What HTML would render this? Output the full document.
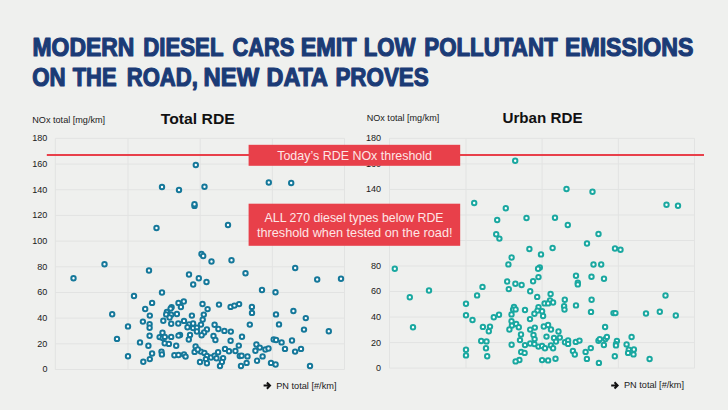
<!DOCTYPE html>
<html><head><meta charset="utf-8"><title>Modern diesel cars emit low pollutant emissions</title>
<style>html,body{margin:0;padding:0;background:#eff0ee}svg{display:block}text{font-family:"Liberation Sans",sans-serif}</style></head><body>
<svg width="728" height="410" viewBox="0 0 728 410">
<rect width="728" height="410" fill="#eff0ee"/>
<g fill="#1b3b76" stroke="#1b3b76" stroke-width="1.2" stroke-linejoin="round" font-weight="bold" font-size="25.3">
<text x="32.49" y="55.9" textLength="101.83" lengthAdjust="spacingAndGlyphs">MODERN</text>
<text x="143.20" y="55.9" textLength="80.32" lengthAdjust="spacingAndGlyphs">DIESEL</text>
<text x="232.50" y="55.9" textLength="61.70" lengthAdjust="spacingAndGlyphs">CARS</text>
<text x="300.71" y="55.9" textLength="55.90" lengthAdjust="spacingAndGlyphs">EMIT</text>
<text x="363.81" y="55.9" textLength="51.73" lengthAdjust="spacingAndGlyphs">LOW</text>
<text x="424.26" y="55.9" textLength="133.45" lengthAdjust="spacingAndGlyphs">POLLUTANT</text>
<text x="565.01" y="55.9" textLength="128.40" lengthAdjust="spacingAndGlyphs">EMISSIONS</text>
<text x="32.18" y="86.2" textLength="33.42" lengthAdjust="spacingAndGlyphs">ON</text>
<text x="72.76" y="86.2" textLength="43.80" lengthAdjust="spacingAndGlyphs">THE</text>
<text x="126.71" y="86.2" textLength="71.09" lengthAdjust="spacingAndGlyphs">ROAD,</text>
<text x="203.62" y="86.2" textLength="55.51" lengthAdjust="spacingAndGlyphs">NEW</text>
<text x="266.51" y="86.2" textLength="61.49" lengthAdjust="spacingAndGlyphs">DATA</text>
<text x="335.40" y="86.2" textLength="93.30" lengthAdjust="spacingAndGlyphs">PROVES</text>
</g>
<g stroke="#e2e3e2" stroke-width="1" fill="none">
<line x1="55.3" x2="344.5" y1="369.50" y2="369.50"/>
<line x1="55.3" x2="344.5" y1="343.82" y2="343.82"/>
<line x1="55.3" x2="344.5" y1="318.14" y2="318.14"/>
<line x1="55.3" x2="344.5" y1="292.47" y2="292.47"/>
<line x1="55.3" x2="344.5" y1="266.79" y2="266.79"/>
<line x1="55.3" x2="344.5" y1="241.11" y2="241.11"/>
<line x1="55.3" x2="344.5" y1="215.43" y2="215.43"/>
<line x1="55.3" x2="344.5" y1="189.76" y2="189.76"/>
<line x1="55.3" x2="344.5" y1="164.08" y2="164.08"/>
<line x1="55.3" x2="344.5" y1="138.40" y2="138.40"/>
<line x1="55.3" x2="55.3" y1="138.40" y2="369.50"/>
<line x1="128.0" x2="128.0" y1="138.40" y2="369.50"/>
<line x1="200.2" x2="200.2" y1="138.40" y2="369.50"/>
<line x1="272.4" x2="272.4" y1="138.40" y2="369.50"/>
<line x1="344.5" x2="344.5" y1="138.40" y2="369.50"/>
<line x1="389.5" x2="694.5" y1="368.10" y2="368.10"/>
<line x1="389.5" x2="694.5" y1="342.58" y2="342.58"/>
<line x1="389.5" x2="694.5" y1="317.06" y2="317.06"/>
<line x1="389.5" x2="694.5" y1="291.53" y2="291.53"/>
<line x1="389.5" x2="694.5" y1="266.01" y2="266.01"/>
<line x1="389.5" x2="694.5" y1="240.49" y2="240.49"/>
<line x1="389.5" x2="694.5" y1="214.97" y2="214.97"/>
<line x1="389.5" x2="694.5" y1="189.44" y2="189.44"/>
<line x1="389.5" x2="694.5" y1="163.92" y2="163.92"/>
<line x1="389.5" x2="694.5" y1="138.40" y2="138.40"/>
<line x1="389.5" x2="389.5" y1="138.40" y2="368.10"/>
<line x1="466.0" x2="466.0" y1="138.40" y2="368.10"/>
<line x1="542.1" x2="542.1" y1="138.40" y2="368.10"/>
<line x1="618.4" x2="618.4" y1="138.40" y2="368.10"/>
<line x1="694.5" x2="694.5" y1="138.40" y2="368.10"/>
</g>
<g fill="#1a1a1a" font-size="9.2">
<text x="47.4" y="372.4" text-anchor="end" font-size="9.8" textLength="5.0" lengthAdjust="spacingAndGlyphs">0</text>
<text x="381" y="371.0" text-anchor="end" font-size="9.8" textLength="5.0" lengthAdjust="spacingAndGlyphs">0</text>
<text x="47.4" y="346.7" text-anchor="end" font-size="9.8" textLength="10.1" lengthAdjust="spacingAndGlyphs">20</text>
<text x="381" y="345.5" text-anchor="end" font-size="9.8" textLength="10.1" lengthAdjust="spacingAndGlyphs">20</text>
<text x="47.4" y="321.0" text-anchor="end" font-size="9.8" textLength="10.1" lengthAdjust="spacingAndGlyphs">40</text>
<text x="381" y="320.0" text-anchor="end" font-size="9.8" textLength="10.1" lengthAdjust="spacingAndGlyphs">40</text>
<text x="47.4" y="295.4" text-anchor="end" font-size="9.8" textLength="10.1" lengthAdjust="spacingAndGlyphs">60</text>
<text x="381" y="294.4" text-anchor="end" font-size="9.8" textLength="10.1" lengthAdjust="spacingAndGlyphs">60</text>
<text x="47.4" y="269.7" text-anchor="end" font-size="9.8" textLength="10.1" lengthAdjust="spacingAndGlyphs">80</text>
<text x="381" y="268.9" text-anchor="end" font-size="9.8" textLength="10.1" lengthAdjust="spacingAndGlyphs">80</text>
<text x="47.4" y="244.0" text-anchor="end" font-size="9.8" textLength="15.1" lengthAdjust="spacingAndGlyphs">100</text>
<text x="381" y="243.4" text-anchor="end" font-size="9.8" textLength="15.1" lengthAdjust="spacingAndGlyphs">100</text>
<text x="47.4" y="218.3" text-anchor="end" font-size="9.8" textLength="15.1" lengthAdjust="spacingAndGlyphs">120</text>
<text x="381" y="217.9" text-anchor="end" font-size="9.8" textLength="15.1" lengthAdjust="spacingAndGlyphs">120</text>
<text x="47.4" y="192.7" text-anchor="end" font-size="9.8" textLength="15.1" lengthAdjust="spacingAndGlyphs">140</text>
<text x="381" y="192.3" text-anchor="end" font-size="9.8" textLength="15.1" lengthAdjust="spacingAndGlyphs">140</text>
<text x="47.4" y="167.0" text-anchor="end" font-size="9.8" textLength="15.1" lengthAdjust="spacingAndGlyphs">160</text>
<text x="381" y="166.8" text-anchor="end" font-size="9.8" textLength="15.1" lengthAdjust="spacingAndGlyphs">160</text>
<text x="47.4" y="141.3" text-anchor="end" font-size="9.8" textLength="15.1" lengthAdjust="spacingAndGlyphs">180</text>
<text x="381" y="141.3" text-anchor="end" font-size="9.8" textLength="15.1" lengthAdjust="spacingAndGlyphs">180</text>
<text x="32.3" y="123.1" textLength="72.8" lengthAdjust="spacingAndGlyphs">NOx total [mg/km]</text>
<text x="366.7" y="120.9" textLength="72.6" lengthAdjust="spacingAndGlyphs">NOx total [mg/km]</text>
<text x="276.2" y="388.5" textLength="60.3" lengthAdjust="spacingAndGlyphs">PN total [#/km]</text>
<text x="624" y="388.2" textLength="60" lengthAdjust="spacingAndGlyphs">PN total [#/km]</text>
</g>
<path d="M263.6 385.6 h5.6 M266.9 382.5 l3.1 3.1 l-3.1 3.1" stroke="#111" stroke-width="2" stroke-linejoin="miter" fill="none"/>
<path d="M611.2 385.4 h5.6 M614.5 382.3 l3.1 3.1 l-3.1 3.1" stroke="#111" stroke-width="2" stroke-linejoin="miter" fill="none"/>
<g fill="#111" font-weight="bold" font-size="14.9">
<text x="160.8" y="124.4" textLength="74" lengthAdjust="spacingAndGlyphs">Total RDE</text>
<text x="502.5" y="123" textLength="80" lengthAdjust="spacingAndGlyphs">Urban RDE</text>
</g>
<g fill="#ffffff" stroke="#15789a" stroke-width="2">
<circle cx="162.0" cy="187.0" r="2.2"/>
<circle cx="179.0" cy="190.0" r="2.2"/>
<circle cx="156.5" cy="228.0" r="2.2"/>
<circle cx="195.8" cy="165.0" r="2.2"/>
<circle cx="204.5" cy="186.8" r="2.2"/>
<circle cx="268.8" cy="182.5" r="2.2"/>
<circle cx="291.2" cy="183.0" r="2.2"/>
<circle cx="194.5" cy="205.9" r="2.2"/>
<circle cx="194.5" cy="204.3" r="2.2"/>
<circle cx="228.0" cy="225.0" r="2.2"/>
<circle cx="73.5" cy="278.2" r="2.2"/>
<circle cx="104.5" cy="264.2" r="2.2"/>
<circle cx="149.0" cy="270.5" r="2.2"/>
<circle cx="162.0" cy="292.5" r="2.2"/>
<circle cx="134.0" cy="296.0" r="2.2"/>
<circle cx="112.2" cy="314.2" r="2.2"/>
<circle cx="128.0" cy="326.4" r="2.2"/>
<circle cx="117.0" cy="338.9" r="2.2"/>
<circle cx="128.0" cy="356.2" r="2.2"/>
<circle cx="201.5" cy="254.0" r="2.2"/>
<circle cx="203.2" cy="256.0" r="2.2"/>
<circle cx="211.5" cy="261.5" r="2.2"/>
<circle cx="231.5" cy="260.2" r="2.2"/>
<circle cx="295.2" cy="268.0" r="2.2"/>
<circle cx="189.0" cy="274.5" r="2.2"/>
<circle cx="198.8" cy="278.2" r="2.2"/>
<circle cx="245.5" cy="273.2" r="2.2"/>
<circle cx="206.5" cy="282.0" r="2.2"/>
<circle cx="193.2" cy="284.5" r="2.2"/>
<circle cx="317.2" cy="279.5" r="2.2"/>
<circle cx="341.0" cy="278.8" r="2.2"/>
<circle cx="262.0" cy="290.0" r="2.2"/>
<circle cx="275.5" cy="292.2" r="2.2"/>
<circle cx="152.1" cy="302.9" r="2.2"/>
<circle cx="145.2" cy="309.0" r="2.2"/>
<circle cx="149.8" cy="315.6" r="2.2"/>
<circle cx="142.9" cy="321.6" r="2.2"/>
<circle cx="149.6" cy="324.1" r="2.2"/>
<circle cx="149.6" cy="327.8" r="2.2"/>
<circle cx="149.6" cy="335.8" r="2.2"/>
<circle cx="148.4" cy="345.8" r="2.2"/>
<circle cx="178.5" cy="302.9" r="2.2"/>
<circle cx="183.8" cy="301.5" r="2.2"/>
<circle cx="180.9" cy="307.0" r="2.2"/>
<circle cx="171.6" cy="307.3" r="2.2"/>
<circle cx="170.6" cy="308.6" r="2.2"/>
<circle cx="166.9" cy="311.9" r="2.2"/>
<circle cx="166.2" cy="314.4" r="2.2"/>
<circle cx="171.2" cy="314.8" r="2.2"/>
<circle cx="176.9" cy="314.0" r="2.2"/>
<circle cx="169.6" cy="317.5" r="2.2"/>
<circle cx="163.3" cy="320.8" r="2.2"/>
<circle cx="171.2" cy="323.8" r="2.2"/>
<circle cx="178.3" cy="323.5" r="2.2"/>
<circle cx="184.0" cy="320.9" r="2.2"/>
<circle cx="191.9" cy="315.6" r="2.2"/>
<circle cx="202.5" cy="304.0" r="2.2"/>
<circle cx="207.6" cy="309.1" r="2.2"/>
<circle cx="219.0" cy="304.6" r="2.2"/>
<circle cx="203.8" cy="314.6" r="2.2"/>
<circle cx="202.7" cy="319.6" r="2.2"/>
<circle cx="201.0" cy="324.6" r="2.2"/>
<circle cx="189.1" cy="324.4" r="2.2"/>
<circle cx="193.1" cy="323.5" r="2.2"/>
<circle cx="187.5" cy="327.2" r="2.2"/>
<circle cx="193.1" cy="328.1" r="2.2"/>
<circle cx="196.9" cy="327.8" r="2.2"/>
<circle cx="196.9" cy="331.5" r="2.2"/>
<circle cx="206.9" cy="329.4" r="2.2"/>
<circle cx="204.1" cy="332.5" r="2.2"/>
<circle cx="201.6" cy="335.2" r="2.2"/>
<circle cx="190.0" cy="335.0" r="2.2"/>
<circle cx="188.8" cy="339.5" r="2.2"/>
<circle cx="180.0" cy="335.0" r="2.2"/>
<circle cx="178.5" cy="335.6" r="2.2"/>
<circle cx="171.2" cy="336.9" r="2.2"/>
<circle cx="162.5" cy="332.8" r="2.2"/>
<circle cx="159.6" cy="337.1" r="2.2"/>
<circle cx="162.7" cy="338.1" r="2.2"/>
<circle cx="164.8" cy="336.9" r="2.2"/>
<circle cx="164.7" cy="343.2" r="2.2"/>
<circle cx="168.9" cy="343.9" r="2.2"/>
<circle cx="176.2" cy="345.8" r="2.2"/>
<circle cx="214.6" cy="324.8" r="2.2"/>
<circle cx="218.4" cy="329.0" r="2.2"/>
<circle cx="224.4" cy="330.9" r="2.2"/>
<circle cx="230.8" cy="331.6" r="2.2"/>
<circle cx="213.5" cy="335.9" r="2.2"/>
<circle cx="215.4" cy="340.0" r="2.2"/>
<circle cx="195.6" cy="346.5" r="2.2"/>
<circle cx="230.6" cy="306.9" r="2.2"/>
<circle cx="230.6" cy="340.8" r="2.2"/>
<circle cx="140.0" cy="342.4" r="2.2"/>
<circle cx="234.4" cy="305.6" r="2.2"/>
<circle cx="239.1" cy="304.1" r="2.2"/>
<circle cx="251.9" cy="306.9" r="2.2"/>
<circle cx="252.0" cy="312.9" r="2.2"/>
<circle cx="249.8" cy="324.6" r="2.2"/>
<circle cx="276.0" cy="314.4" r="2.2"/>
<circle cx="293.4" cy="311.0" r="2.2"/>
<circle cx="305.8" cy="318.1" r="2.2"/>
<circle cx="279.0" cy="324.4" r="2.2"/>
<circle cx="304.0" cy="329.6" r="2.2"/>
<circle cx="242.0" cy="336.8" r="2.2"/>
<circle cx="273.7" cy="339.5" r="2.2"/>
<circle cx="276.1" cy="340.0" r="2.2"/>
<circle cx="281.6" cy="342.4" r="2.2"/>
<circle cx="292.0" cy="340.5" r="2.2"/>
<circle cx="238.8" cy="345.6" r="2.2"/>
<circle cx="256.4" cy="344.5" r="2.2"/>
<circle cx="328.8" cy="331.2" r="2.2"/>
<circle cx="152.1" cy="353.5" r="2.2"/>
<circle cx="149.8" cy="359.1" r="2.2"/>
<circle cx="143.3" cy="361.8" r="2.2"/>
<circle cx="161.5" cy="351.6" r="2.2"/>
<circle cx="161.9" cy="354.4" r="2.2"/>
<circle cx="174.4" cy="355.2" r="2.2"/>
<circle cx="178.5" cy="355.0" r="2.2"/>
<circle cx="184.0" cy="354.4" r="2.2"/>
<circle cx="185.6" cy="356.6" r="2.2"/>
<circle cx="194.6" cy="351.9" r="2.2"/>
<circle cx="200.9" cy="351.6" r="2.2"/>
<circle cx="204.4" cy="352.9" r="2.2"/>
<circle cx="197.8" cy="349.5" r="2.2"/>
<circle cx="206.9" cy="356.0" r="2.2"/>
<circle cx="205.9" cy="359.1" r="2.2"/>
<circle cx="200.0" cy="362.0" r="2.2"/>
<circle cx="206.9" cy="363.2" r="2.2"/>
<circle cx="211.0" cy="357.5" r="2.2"/>
<circle cx="214.6" cy="355.8" r="2.2"/>
<circle cx="218.1" cy="352.2" r="2.2"/>
<circle cx="216.5" cy="358.2" r="2.2"/>
<circle cx="223.1" cy="358.1" r="2.2"/>
<circle cx="221.9" cy="361.9" r="2.2"/>
<circle cx="220.0" cy="366.0" r="2.2"/>
<circle cx="225.0" cy="348.9" r="2.2"/>
<circle cx="229.0" cy="351.2" r="2.2"/>
<circle cx="235.4" cy="351.0" r="2.2"/>
<circle cx="239.8" cy="356.0" r="2.2"/>
<circle cx="241.6" cy="355.8" r="2.2"/>
<circle cx="247.5" cy="356.4" r="2.2"/>
<circle cx="246.6" cy="362.9" r="2.2"/>
<circle cx="241.0" cy="366.0" r="2.2"/>
<circle cx="259.8" cy="347.6" r="2.2"/>
<circle cx="255.4" cy="350.8" r="2.2"/>
<circle cx="265.4" cy="349.5" r="2.2"/>
<circle cx="268.5" cy="348.5" r="2.2"/>
<circle cx="262.6" cy="356.4" r="2.2"/>
<circle cx="257.0" cy="360.8" r="2.2"/>
<circle cx="271.0" cy="362.9" r="2.2"/>
<circle cx="275.6" cy="364.5" r="2.2"/>
<circle cx="285.0" cy="348.9" r="2.2"/>
<circle cx="295.1" cy="351.6" r="2.2"/>
<circle cx="301.0" cy="348.9" r="2.2"/>
<circle cx="310.0" cy="366.0" r="2.2"/>
</g>
<g fill="#ffffff" stroke="#1aa8a0" stroke-width="2">
<circle cx="515.2" cy="160.8" r="2.2"/>
<circle cx="474.2" cy="203.0" r="2.2"/>
<circle cx="505.8" cy="208.2" r="2.2"/>
<circle cx="497.2" cy="220.0" r="2.2"/>
<circle cx="526.5" cy="218.0" r="2.2"/>
<circle cx="496.2" cy="234.2" r="2.2"/>
<circle cx="499.4" cy="238.6" r="2.2"/>
<circle cx="566.5" cy="189.0" r="2.2"/>
<circle cx="592.5" cy="191.8" r="2.2"/>
<circle cx="666.5" cy="204.8" r="2.2"/>
<circle cx="678.0" cy="205.8" r="2.2"/>
<circle cx="555.0" cy="217.8" r="2.2"/>
<circle cx="567.8" cy="225.0" r="2.2"/>
<circle cx="598.5" cy="234.0" r="2.2"/>
<circle cx="394.8" cy="268.8" r="2.2"/>
<circle cx="409.8" cy="297.2" r="2.2"/>
<circle cx="429.0" cy="290.5" r="2.2"/>
<circle cx="413.0" cy="327.2" r="2.2"/>
<circle cx="529.4" cy="249.0" r="2.2"/>
<circle cx="552.6" cy="248.0" r="2.2"/>
<circle cx="541.0" cy="254.4" r="2.2"/>
<circle cx="511.6" cy="257.5" r="2.2"/>
<circle cx="508.4" cy="264.4" r="2.2"/>
<circle cx="539.8" cy="267.4" r="2.2"/>
<circle cx="538.1" cy="268.8" r="2.2"/>
<circle cx="538.5" cy="277.1" r="2.2"/>
<circle cx="587.0" cy="243.5" r="2.2"/>
<circle cx="615.0" cy="248.5" r="2.2"/>
<circle cx="620.5" cy="249.8" r="2.2"/>
<circle cx="593.5" cy="264.5" r="2.2"/>
<circle cx="601.2" cy="264.5" r="2.2"/>
<circle cx="576.0" cy="275.8" r="2.2"/>
<circle cx="591.5" cy="276.8" r="2.2"/>
<circle cx="604.0" cy="278.8" r="2.2"/>
<circle cx="577.8" cy="282.8" r="2.2"/>
<circle cx="577.8" cy="284.4" r="2.2"/>
<circle cx="482.5" cy="286.9" r="2.2"/>
<circle cx="477.1" cy="295.4" r="2.2"/>
<circle cx="466.0" cy="303.8" r="2.2"/>
<circle cx="466.0" cy="315.2" r="2.2"/>
<circle cx="472.5" cy="320.0" r="2.2"/>
<circle cx="493.8" cy="317.2" r="2.2"/>
<circle cx="499.0" cy="314.8" r="2.2"/>
<circle cx="482.9" cy="326.9" r="2.2"/>
<circle cx="490.0" cy="326.6" r="2.2"/>
<circle cx="488.8" cy="331.2" r="2.2"/>
<circle cx="507.2" cy="281.5" r="2.2"/>
<circle cx="508.8" cy="289.1" r="2.2"/>
<circle cx="515.4" cy="283.8" r="2.2"/>
<circle cx="521.6" cy="285.0" r="2.2"/>
<circle cx="533.1" cy="281.2" r="2.2"/>
<circle cx="530.2" cy="291.2" r="2.2"/>
<circle cx="537.2" cy="296.9" r="2.2"/>
<circle cx="550.6" cy="294.0" r="2.2"/>
<circle cx="550.0" cy="300.4" r="2.2"/>
<circle cx="544.6" cy="303.4" r="2.2"/>
<circle cx="548.1" cy="303.4" r="2.2"/>
<circle cx="553.1" cy="302.5" r="2.2"/>
<circle cx="514.0" cy="306.9" r="2.2"/>
<circle cx="513.1" cy="309.6" r="2.2"/>
<circle cx="515.6" cy="309.4" r="2.2"/>
<circle cx="511.5" cy="314.4" r="2.2"/>
<circle cx="525.0" cy="310.0" r="2.2"/>
<circle cx="538.5" cy="307.1" r="2.2"/>
<circle cx="537.5" cy="310.6" r="2.2"/>
<circle cx="542.1" cy="311.2" r="2.2"/>
<circle cx="534.4" cy="313.8" r="2.2"/>
<circle cx="543.1" cy="316.0" r="2.2"/>
<circle cx="530.0" cy="319.1" r="2.2"/>
<circle cx="511.5" cy="321.2" r="2.2"/>
<circle cx="516.2" cy="324.0" r="2.2"/>
<circle cx="511.9" cy="325.6" r="2.2"/>
<circle cx="518.8" cy="327.3" r="2.2"/>
<circle cx="509.4" cy="329.5" r="2.2"/>
<circle cx="534.8" cy="327.6" r="2.2"/>
<circle cx="530.2" cy="329.6" r="2.2"/>
<circle cx="543.8" cy="326.5" r="2.2"/>
<circle cx="548.1" cy="325.0" r="2.2"/>
<circle cx="551.0" cy="329.5" r="2.2"/>
<circle cx="564.8" cy="299.8" r="2.2"/>
<circle cx="591.6" cy="299.8" r="2.2"/>
<circle cx="576.0" cy="305.4" r="2.2"/>
<circle cx="564.1" cy="306.2" r="2.2"/>
<circle cx="564.5" cy="309.6" r="2.2"/>
<circle cx="591.0" cy="311.9" r="2.2"/>
<circle cx="613.5" cy="313.1" r="2.2"/>
<circle cx="615.4" cy="313.1" r="2.2"/>
<circle cx="646.0" cy="313.5" r="2.2"/>
<circle cx="605.1" cy="327.0" r="2.2"/>
<circle cx="558.5" cy="331.5" r="2.2"/>
<circle cx="659.8" cy="311.8" r="2.2"/>
<circle cx="675.8" cy="315.5" r="2.2"/>
<circle cx="665.5" cy="295.5" r="2.2"/>
<circle cx="481.2" cy="341.0" r="2.2"/>
<circle cx="486.5" cy="341.4" r="2.2"/>
<circle cx="486.0" cy="348.2" r="2.2"/>
<circle cx="487.2" cy="356.2" r="2.2"/>
<circle cx="466.0" cy="349.8" r="2.2"/>
<circle cx="466.0" cy="355.4" r="2.2"/>
<circle cx="521.0" cy="334.5" r="2.2"/>
<circle cx="520.0" cy="340.1" r="2.2"/>
<circle cx="511.6" cy="344.8" r="2.2"/>
<circle cx="525.0" cy="345.1" r="2.2"/>
<circle cx="530.2" cy="343.5" r="2.2"/>
<circle cx="534.4" cy="344.1" r="2.2"/>
<circle cx="533.5" cy="335.0" r="2.2"/>
<circle cx="534.6" cy="339.1" r="2.2"/>
<circle cx="538.5" cy="346.6" r="2.2"/>
<circle cx="542.1" cy="346.0" r="2.2"/>
<circle cx="545.0" cy="348.2" r="2.2"/>
<circle cx="550.9" cy="345.4" r="2.2"/>
<circle cx="553.1" cy="348.2" r="2.2"/>
<circle cx="546.5" cy="336.6" r="2.2"/>
<circle cx="554.0" cy="337.9" r="2.2"/>
<circle cx="521.2" cy="351.9" r="2.2"/>
<circle cx="524.6" cy="352.9" r="2.2"/>
<circle cx="519.4" cy="360.0" r="2.2"/>
<circle cx="515.6" cy="361.4" r="2.2"/>
<circle cx="542.1" cy="360.1" r="2.2"/>
<circle cx="548.1" cy="360.4" r="2.2"/>
<circle cx="555.5" cy="358.8" r="2.2"/>
<circle cx="559.8" cy="337.6" r="2.2"/>
<circle cx="556.0" cy="341.6" r="2.2"/>
<circle cx="565.0" cy="342.2" r="2.2"/>
<circle cx="568.1" cy="340.4" r="2.2"/>
<circle cx="568.1" cy="343.9" r="2.2"/>
<circle cx="575.8" cy="341.9" r="2.2"/>
<circle cx="579.5" cy="340.6" r="2.2"/>
<circle cx="572.9" cy="351.0" r="2.2"/>
<circle cx="574.8" cy="354.5" r="2.2"/>
<circle cx="585.6" cy="351.9" r="2.2"/>
<circle cx="590.8" cy="348.1" r="2.2"/>
<circle cx="586.9" cy="358.9" r="2.2"/>
<circle cx="598.9" cy="362.9" r="2.2"/>
<circle cx="598.5" cy="340.8" r="2.2"/>
<circle cx="599.8" cy="339.1" r="2.2"/>
<circle cx="605.4" cy="339.1" r="2.2"/>
<circle cx="606.9" cy="336.9" r="2.2"/>
<circle cx="603.9" cy="345.0" r="2.2"/>
<circle cx="616.9" cy="341.0" r="2.2"/>
<circle cx="616.0" cy="344.1" r="2.2"/>
<circle cx="616.0" cy="345.4" r="2.2"/>
<circle cx="614.8" cy="356.2" r="2.2"/>
<circle cx="626.6" cy="344.4" r="2.2"/>
<circle cx="631.6" cy="337.0" r="2.2"/>
<circle cx="628.8" cy="349.8" r="2.2"/>
<circle cx="633.9" cy="349.5" r="2.2"/>
<circle cx="628.1" cy="352.9" r="2.2"/>
<circle cx="633.5" cy="354.4" r="2.2"/>
<circle cx="649.6" cy="359.0" r="2.2"/>
</g>
<rect x="46.8" y="154" width="657.2" height="2" fill="#e8404a"/>
<rect x="248.6" y="144.8" width="211.6" height="21" fill="#e8404a"/>
<rect x="248.6" y="203.7" width="211.6" height="42.1" fill="#e8404a"/>
<g fill="#fde6e6" font-size="13">
<text x="277.2" y="159.5" textLength="154.8" lengthAdjust="spacingAndGlyphs">Today’s RDE NOx threshold</text>
<text x="264.6" y="221.5" textLength="179" lengthAdjust="spacingAndGlyphs">ALL 270 diesel types below RDE</text>
<text x="256.9" y="237.3" textLength="195.6" lengthAdjust="spacingAndGlyphs">threshold when tested on the road!</text>
</g>
</svg></body></html>
